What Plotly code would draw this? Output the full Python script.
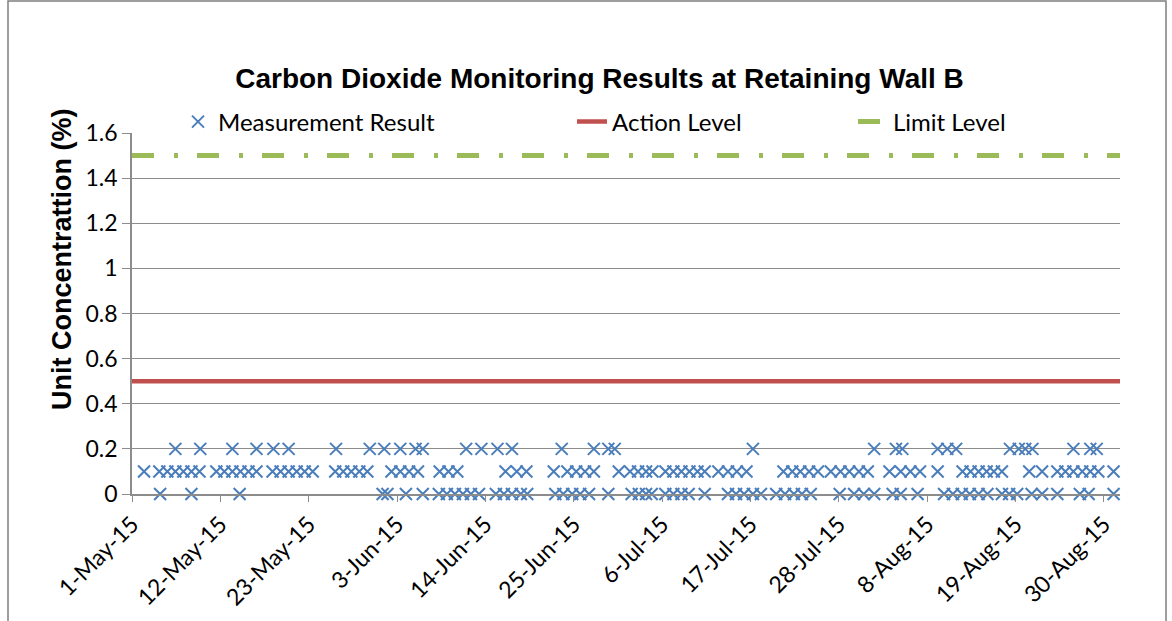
import pandas as pd
import plotly.graph_objects as go

# ---- data ----
# measurement positions, expressed as days after 1-May-15, grouped by measured value
days_at_02 = [5.4, 8.5, 12.5, 15.5, 17.6, 19.5, 25.4, 29.6, 31.4, 33.4, 35.3, 36.2,
              41.6, 43.5, 45.5, 47.3, 53.5, 57.5, 59.3, 60.1, 77.3, 92.4, 95.1, 95.9,
              100.3, 101.5, 102.6, 109.3, 110.4, 111.2, 112.1, 117.2, 119.3, 120.1]
days_at_01 = [1.5, 3.4, 4.4, 5.4, 6.4, 7.4, 8.4, 10.5, 11.5, 12.5, 13.5, 14.5, 15.5,
              17.5, 18.5, 19.5, 20.5, 21.5, 22.5, 25.3, 26.3, 27.3, 28.3, 29.3,
              32.3, 33.4, 34.5, 35.6, 38.3, 39.4, 40.5, 46.5, 47.9, 49.1, 52.5,
              54.2, 55.3, 56.4, 57.5, 60.6, 62.0, 63.0, 64.0, 64.8, 66.4, 67.4, 68.4,
              69.4, 70.4, 71.3, 73.0, 74.2, 75.3, 76.5, 81.1, 82.2, 83.2, 84.3, 85.4,
              87.0, 88.2, 89.3, 90.5, 91.6, 94.3, 95.7, 96.9, 98.1, 100.3, 103.4,
              104.4, 105.4, 106.4, 107.3, 108.3, 111.7, 113.3, 115.2, 116.2, 117.2,
              118.3, 119.3, 120.3, 122.2]
days_at_00 = [3.5, 7.4, 13.4, 31.2, 31.8, 34.1, 36.2, 38.2, 39.2, 40.2, 41.2, 42.2,
              43.2, 45.3, 46.3, 47.3, 48.4, 49.2, 52.7, 53.7, 54.8, 55.8, 56.9, 59.3,
              62.2, 63.1, 64.0, 64.7, 66.4, 67.4, 68.4, 69.3, 71.3, 74.2, 75.2, 76.2,
              77.3, 78.3, 80.2, 81.3, 82.4, 83.4, 84.5, 88.1, 89.9, 91.1, 92.4, 94.7,
              95.7, 97.8, 101.1, 102.2, 103.3, 104.3, 105.4, 106.5, 108.3, 109.2,
              110.2, 112.0, 113.3, 115.2, 118.0, 119.1, 122.2]
level_values = [0.2, 0.1, 0.0]

start_date = "2015-05-01"
end_date = "2015-09-01"
action_level = 0.5
limit_level = 1.5
tick_dates = ["2015-05-01", "2015-05-12", "2015-05-23", "2015-06-03", "2015-06-14",
              "2015-06-25", "2015-07-06", "2015-07-17", "2015-07-28", "2015-08-08",
              "2015-08-19", "2015-08-30"]
tick_labels = ["1-May-15", "12-May-15", "23-May-15", "3-Jun-15", "14-Jun-15",
               "25-Jun-15", "6-Jul-15", "17-Jul-15", "28-Jul-15", "8-Aug-15",
               "19-Aug-15", "30-Aug-15"]

# ---- build ----
base = pd.Timestamp(start_date)
xs, ys = [], []
for days, v in zip([days_at_02, days_at_01, days_at_00], level_values):
    for d in days:
        xs.append(base + pd.Timedelta(days=d))
        ys.append(v)

BLUE = "#4A7EBB"
RED = "#C0504D"
GREEN = "#9BBB59"
GRID = "#8C8C8C"
LABEL_FONT = "Lato, Carlito, Calibri, 'Open Sans', sans-serif"
BOLD_FONT = "Liberation Sans, Arial, sans-serif"

fig = go.Figure()
fig.add_trace(go.Scatter(
    x=xs, y=ys, mode="markers", name="Measurement Result", showlegend=True,
    marker=dict(symbol="x-thin", size=12, color=BLUE, line=dict(color=BLUE, width=2)),
    legend="legend", cliponaxis=False))
fig.add_trace(go.Scatter(
    x=[start_date, end_date], y=[action_level, action_level], mode="lines",
    name="Action Level", showlegend=True, line=dict(color=RED, width=4.5),
    legend="legend2"))
fig.add_trace(go.Scatter(
    x=[start_date, end_date], y=[limit_level, limit_level], mode="lines",
    name="Limit Level", showlegend=True,
    line=dict(color=GREEN, width=5, dash="22px,20px,4px,19px"), legend="legend3"))

leg_common = dict(orientation="h", yanchor="middle", y=(494 - 122) / 361, xanchor="left",
                  bgcolor="rgba(0,0,0,0)", font=dict(family=LABEL_FONT, size=24, color="#000"))

fig.update_layout(
    width=1172, height=621,
    showlegend=True,
    margin=dict(l=132, r=52, t=133, b=127),
    paper_bgcolor="white", plot_bgcolor="white",
    title=dict(text="<b>Carbon Dioxide Monitoring Results at Retaining Wall B</b>",
               x=(212 + 987) / 2 / 1172, xanchor="center", y=1 - 78 / 621, yanchor="middle",
               font=dict(family=BOLD_FONT, size=28, color="#000")),
    legend=dict(x=(178 - 132) / 988, **leg_common),
    legend2=dict(x=(572 - 132) / 988, **leg_common),
    legend3=dict(x=(853 - 132) / 988, **leg_common),
    xaxis=dict(type="date", range=[start_date, end_date], tickmode="array",
               tickvals=tick_dates, ticktext=tick_labels, tickangle=-45,
               ticks="outside", ticklen=6, tickcolor=GRID, showline=True, linecolor=GRID,
               linewidth=1.5, showgrid=False, zeroline=False,
               tickfont=dict(family=LABEL_FONT, size=23, color="#000")),
    yaxis=dict(range=[0, 1.6], dtick=0.2, tick0=0, ticks="outside", ticklen=8,
               tickcolor=GRID, showline=True, linecolor=GRID, linewidth=1.5,
               showgrid=True, gridcolor=GRID, gridwidth=1, zeroline=False,
               tickfont=dict(family=LABEL_FONT, size=23, color="#000")),
    annotations=[dict(text="<b>Unit Concentrattion (%)</b>", textangle=-90,
                      xref="paper", yref="paper", x=(62 - 132) / 988,
                      y=(494 - 260) / 361, xanchor="center", yanchor="middle",
                      showarrow=False,
                      font=dict(family=BOLD_FONT, size=27, color="#000"))],
    shapes=[dict(type="rect", xref="paper", yref="paper",
                 x0=(8 - 132) / 988, x1=(1166 - 132) / 988,
                 y0=(494 - 640) / 361, y1=(494 - 1) / 361,
                 line=dict(color="#7F7F7F", width=1.5), fillcolor="rgba(0,0,0,0)",
                 layer="below")],
)

fig.write_html("out.html", post_script="document.body.style.margin='0';",
               config={"displayModeBar": False})
